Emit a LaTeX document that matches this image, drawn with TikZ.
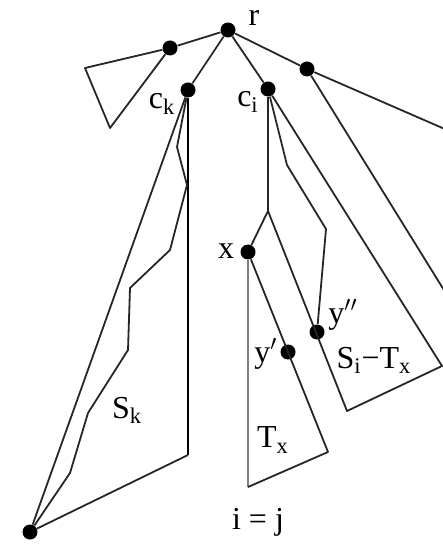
\documentclass[tikz,border=0pt]{standalone}
\usepackage{fontspec}
\setmainfont{Liberation Serif}
\usepackage{tikz}
\usetikzlibrary{positioning}

\begin{document}
\begin{tikzpicture}[
    x=0.5pt, y=-0.5pt,
    vertex/.style={circle, fill=black, inner sep=0pt, minimum size=7.5pt},
    tag/.style={font=\fontsize{16}{19}\selectfont, inner sep=0pt},
    branch/.style={draw=black!85, line width=0.9pt, line join=round},
    spine/.style={draw=black, line width=1.1pt},
    faint/.style={draw=black!50, line width=1.1pt}
]
\useasboundingbox (0,0) rectangle (443,550);
\clip (0,0) rectangle (443,550);

% Tree vertices
\node[vertex] (r) at (228,30) {};
\node[vertex] (a) at (170,48) {};
\node[vertex] (ck) at (188,90) {};
\node[vertex] (ci) at (268,89) {};
\node[vertex] (b) at (307,69) {};
\node[vertex] (kb) at (30,532) {};
\node[vertex] (x) at (248,252) {};
\node[vertex] (yp) at (288,352) {};
\node[vertex] (ypp) at (317,332) {};

% Subtree corners
\coordinate (ta1) at (85,68);
\coordinate (ta2) at (110,128);
\coordinate (bt1) at (447,130);
\coordinate (bt2) at (447,295);
\coordinate (k1) at (188,455);
\coordinate (i1) at (268,211);
\coordinate (i2) at (347,411);
\coordinate (i3) at (442,366);
\coordinate (t1) at (248,487);
\coordinate (t2) at (328,452);

% Path inside S_k
\coordinate (p1) at (177,147);
\coordinate (p2) at (187,185);
\coordinate (p3) at (170,250);
\coordinate (p4) at (130,288);
\coordinate (p5) at (128,350);
\coordinate (p6) at (88,413);
\coordinate (p7) at (70,473);

% Path inside S_i
\coordinate (q1) at (287,165);
\coordinate (q2) at (326,229);

% Labels
\node[tag] (rlab) at (254,18) {r};
\node[tag] (cklab) at (162,104) {c\textsubscript{k}};
\node[tag] (cilab) at (248,102) {c\textsubscript{i}};
\node[tag] (xlab) at (226,251) {x};
\node[tag] (ypplab) at (343,315) {y$''$};
\node[tag] (yplab) at (266,354) {y$'$};
\node[tag] (silab) at (374,360) {S\textsubscript{i}−T\textsubscript{x}};
\node[tag] (sklab) at (127,410) {S\textsubscript{k}};
\node[tag] (txlab) at (273,440) {T\textsubscript{x}};
\node[tag] (ijlab) at (258,522) {i = j};

% Edges from the root
\draw[branch] (r) -- (a);
\draw[branch] (r) -- (ck);
\draw[branch] (r) -- (ci);
\draw[branch] (r) -- (b);

% Left leaf triangle
\draw[branch] (a) -- (ta1) -- (ta2) -- (a);

% Right subtree
\draw[branch] (b) -- (bt1);
\draw[branch] (b) -- (bt2);

% Subtree S_k
\draw[spine] (ck) -- (k1);
\draw[branch] (k1) -- (kb);
\draw[branch] (ck) -- (kb);
\draw[branch] (ck) -- (p1) -- (p2) -- (p3) -- (p4) -- (p5) -- (p6) -- (p7) -- (kb);

% Subtree S_i
\draw[branch] (ci) -- (i1) -- (x);
\draw[branch] (i1) -- (i2) -- (i3) -- (ci);
\draw[branch] (ci) -- (q1) -- (q2) -- (ypp);

% Subtree T_x
\draw[faint] (x) -- (t1);
\draw[branch] (t1) -- (t2) -- (x);

\end{tikzpicture}
\end{document}
